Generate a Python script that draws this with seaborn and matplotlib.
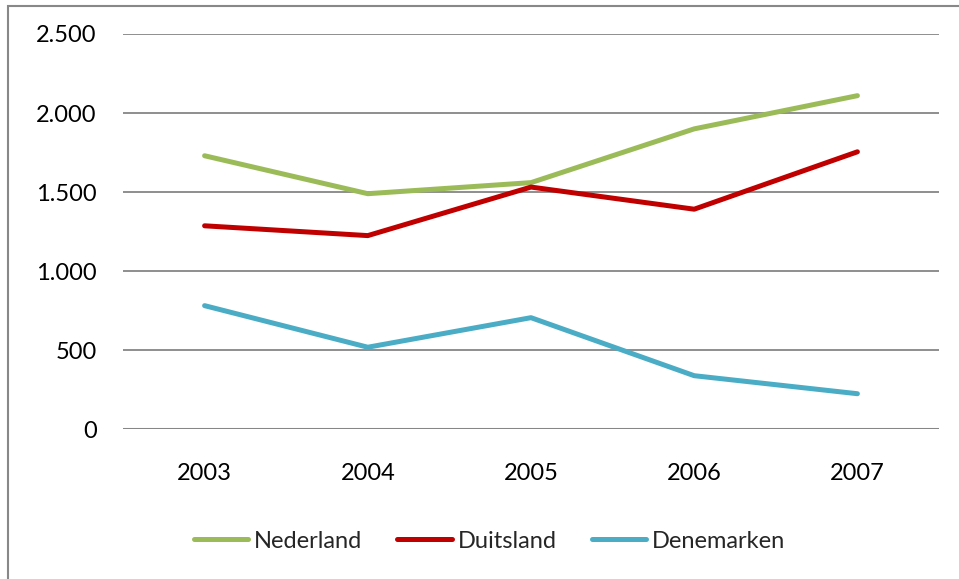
import matplotlib
matplotlib.use("Agg")
import matplotlib.pyplot as plt
import matplotlib.patches as mpatches
from matplotlib.ticker import FuncFormatter
import pandas as pd
import seaborn as sns

# data
years = ["2003", "2004", "2005", "2006", "2007"]
nederland = [1730, 1490, 1560, 1900, 2110]
duitsland = [1287, 1225, 1532, 1392, 1755]
denemarken = [782, 519, 706, 339, 225]

series_names = ["Nederland", "Duitsland", "Denemarken"]
colours = ["#9BBB59", "#C00000", "#4BACC6"]

df = pd.DataFrame({"jaar": years * 3,
                   "waarde": nederland + duitsland + denemarken,
                   "land": [n for n in series_names for _ in years]})

sns.set_style("white")
plt.rcParams['font.family'] = ['Lato', 'DejaVu Sans']

fig = plt.figure(figsize=(9.59, 5.79), dpi=100)
W, H = 959, 579
ax = fig.add_axes([123 / W, 1 - 429.3 / H, (939 - 123) / W, (429.3 - 34) / H])

sns.lineplot(data=df, x="jaar", y="waarde", hue="land", palette=colours,
             linewidth=3.6, ax=ax, sort=False, legend=True)
for ln in ax.get_lines():
    ln.set_solid_capstyle('round')

ax.set_xlim(-0.5, 4.5)
ax.set_ylim(0, 2500)
ax.set_yticks([0, 500, 1000, 1500, 2000, 2500])
ax.yaxis.set_major_formatter(FuncFormatter(lambda v, p: f"{int(v):,}".replace(",", ".")))
ax.grid(axis='y', color='#868686', linewidth=1.3)
ax.set_axisbelow(True)
for s in ax.spines.values():
    s.set_visible(False)
ax.axhline(0, color='#868686', linewidth=2.2, zorder=1)
ax.tick_params(axis='both', length=0, labelsize=17, colors='black')
ax.tick_params(axis='y', pad=19)
ax.tick_params(axis='x', pad=24)
ax.set_xlabel("")
ax.set_ylabel("")

handles, labels = ax.get_legend_handles_labels()
ax.get_legend().remove()
leg = fig.legend(handles, labels, loc='center', bbox_to_anchor=(489.5 / W, 1 - 541 / H),
                 ncol=3, frameon=False, fontsize=17, handlelength=2.3,
                 handletextpad=0.25, columnspacing=1.5)
for h in leg.get_lines():
    h.set_linewidth(3.6)

# outer chart frame (only top and left edges are visible in the crop)
frame = mpatches.Rectangle((8 / W, -0.1), 1.2, 1 - 6 / H + 0.1, transform=fig.transFigure,
                           fill=False, edgecolor='#888888', linewidth=1.5)
fig.add_artist(frame)

fig.savefig("out.png", dpi=100)
